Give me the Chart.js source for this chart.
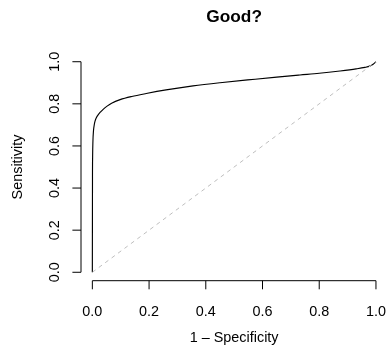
<!DOCTYPE html>
<html>
<head>
<meta charset="utf-8">
<script src="https://cdn.jsdelivr.net/npm/chart.js@4"></script>
<style>
  html, body { margin: 0; padding: 0; background: #fff; }
</style>
</head>
<body>
<canvas id="roc" width="389" height="355"></canvas>
<script>
// ROC curve (1 - specificity, sensitivity)
const fpr = [0, 0.0005, 0.001, 0.002, 0.004, 0.007, 0.0095, 0.014, 0.021, 0.03, 0.039, 0.052, 0.068, 0.098, 0.139, 0.19, 0.26, 0.355, 0.45, 0.574, 0.65, 0.732, 0.8, 0.873, 0.93, 0.961, 0.978, 0.99, 1];
const tpr = [0, 0.45, 0.55, 0.62, 0.672, 0.702, 0.718, 0.734, 0.749, 0.763, 0.775, 0.789, 0.803, 0.82, 0.835, 0.849, 0.866, 0.885, 0.9, 0.917, 0.927, 0.937, 0.945, 0.956, 0.966, 0.973, 0.979, 0.988, 1];

// chance line
const diagX = [0, 1];
const diagY = [0, 1];

const tickValues = [0, 0.2, 0.4, 0.6, 0.8, 1];
const tickLabels = ['0.0', '0.2', '0.4', '0.6', '0.8', '1.0'];

const titleText = 'Good?';
const xTitle = '1 \u2013 Specificity';
const yTitle = 'Sensitivity';

const FONT = "'Liberation Sans', Arial, Helvetica, sans-serif";

function toPoints(xs, ys) {
    return xs.map((x, i) => ({x: x, y: ys[i]}));
}

// axes drawn like base R: lines only over the tick range
const rAxes = {
    id: 'rAxes',
    afterDraw(chart) {
        const ctx = chart.ctx;
        const xs = chart.scales.x;
        const ys = chart.scales.y;
        const area = chart.chartArea;
        const tick = 8.6;

        ctx.save();
        ctx.strokeStyle = '#000';
        ctx.fillStyle = '#000';
        ctx.lineWidth = 1;

        // x axis
        const yAx = area.bottom;
        ctx.beginPath();
        ctx.moveTo(xs.getPixelForValue(tickValues[0]), yAx);
        ctx.lineTo(xs.getPixelForValue(tickValues[tickValues.length - 1]), yAx);
        tickValues.forEach(v => {
            const px = xs.getPixelForValue(v);
            ctx.moveTo(px, yAx);
            ctx.lineTo(px, yAx + tick);
        });
        ctx.stroke();

        // y axis
        const xAx = area.left;
        ctx.beginPath();
        ctx.moveTo(xAx, ys.getPixelForValue(tickValues[0]));
        ctx.lineTo(xAx, ys.getPixelForValue(tickValues[tickValues.length - 1]));
        tickValues.forEach(v => {
            const py = ys.getPixelForValue(v);
            ctx.moveTo(xAx, py);
            ctx.lineTo(xAx - tick, py);
        });
        ctx.stroke();

        ctx.font = '14.4px ' + FONT;
        ctx.textAlign = 'center';
        ctx.textBaseline = 'alphabetic';
        tickValues.forEach((v, i) => {
            ctx.fillText(tickLabels[i], xs.getPixelForValue(v), 315.5);
        });
        tickValues.forEach((v, i) => {
            ctx.save();
            ctx.translate(58.5, ys.getPixelForValue(v));
            ctx.rotate(-Math.PI / 2);
            ctx.fillText(tickLabels[i], 0, 0);
            ctx.restore();
        });

        // axis titles
        const midX = (area.left + area.right) / 2;
        const midY = (area.top + area.bottom) / 2;
        ctx.fillText(xTitle, midX, 342);
        ctx.save();
        ctx.translate(21.5, midY);
        ctx.rotate(-Math.PI / 2);
        ctx.fillText(yTitle, 0, 0);
        ctx.restore();

        // main title
        ctx.font = 'bold 17.3px ' + FONT;
        ctx.fillText(titleText, midX, 21.5);
        ctx.restore();
    }
};

new Chart(document.getElementById('roc'), {
    type: 'scatter',
    data: {
        datasets: [{
            data: toPoints(diagX, diagY),
            showLine: true,
            borderColor: '#bebebe',
            borderWidth: 1,
            borderDash: [4, 4],
            pointRadius: 0
        }, {
            data: toPoints(fpr, tpr),
            showLine: true,
            borderColor: '#000',
            borderWidth: 1.15,
            pointRadius: 0,
            cubicInterpolationMode: 'monotone'
        }]
    },
    options: {
        responsive: false,
        animation: false,
        devicePixelRatio: 1,
        layout: {
            padding: {left: 81, right: 1.7, top: 53.3, bottom: 74.3}
        },
        scales: {
            x: {type: 'linear', min: -0.04, max: 1.04, display: false},
            y: {type: 'linear', min: -0.04, max: 1.04, display: false}
        },
        plugins: {
            legend: {display: false},
            tooltip: {enabled: false}
        }
    },
    plugins: [rAxes]
});
</script>
</body>
</html>
